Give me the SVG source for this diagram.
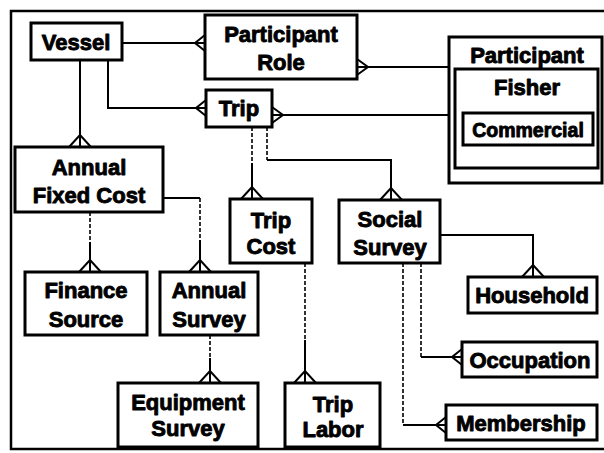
<svg xmlns="http://www.w3.org/2000/svg" width="604" height="453" viewBox="0 0 604 453">
<style>
.box{fill:#fff;stroke:#000;stroke-width:3}
.t{font-family:"Liberation Sans",Arial,sans-serif;font-weight:bold;font-size:22px;text-anchor:middle;fill:#000;stroke:#000;stroke-width:0.9;stroke-linejoin:round}
.ts{font-size:19.5px}
.c{fill:none;stroke:#000;stroke-width:2}
.d{fill:none;stroke:#000;stroke-width:1.6;stroke-dasharray:4 2}
.f{fill:none;stroke:#000;stroke-width:2}
</style>
<rect width="604" height="453" fill="#fff"/>
<path d="M610 11 H11 V449 H610" fill="none" stroke="#000" stroke-width="2.5"/>
<g id="connectors">
<path class="c" d="M122 43 H205"/>
<path class="f" d="M205 35 L195 43 L205 51"/>
<path class="c" d="M108 60 V108 H206"/>
<path class="f" d="M206 100 L196 108 L206 116"/>
<path class="c" d="M80 60 V147"/>
<path class="f" d="M69 147 L80 135 L91 147"/>
<path class="c" d="M357 67 H449"/>
<path class="f" d="M357 59 L368 67 L357 75"/>
<path class="c" d="M272 115 H463"/>
<path class="f" d="M272 107 L283 115 L272 123"/>
<path class="d" d="M252 127 V163"/>
<path class="c" d="M252 163 V199"/>
<path class="f" d="M241 199 L252 187 L263 199"/>
<path class="d" d="M267 127 V160"/>
<path class="c" d="M267 160 H391 V200"/>
<path class="f" d="M380 200 L391 188 L402 200"/>
<path class="d" d="M90 212 V242"/>
<path class="c" d="M90 242 V272"/>
<path class="f" d="M79 272 L90 260 L101 272"/>
<path class="c" d="M163 198 H200"/>
<path class="d" d="M200 198 V240"/>
<path class="c" d="M200 240 V272"/>
<path class="f" d="M189 272 L200 260 L211 272"/>
<path class="d" d="M210 335 V358"/>
<path class="c" d="M210 358 V383"/>
<path class="f" d="M199 383 L210 371 L221 383"/>
<path class="d" d="M305 263 V340"/>
<path class="c" d="M305 340 V383"/>
<path class="f" d="M294 383 L305 371 L316 383"/>
<path class="c" d="M440 235 H533 V277"/>
<path class="f" d="M522 277 L533 265 L544 277"/>
<path class="d" d="M421 263 V357"/>
<path class="c" d="M421 357 H462"/>
<path class="f" d="M462 349 L452 357 L462 365"/>
<path class="d" d="M403 263 V425"/>
<path class="c" d="M403 425 H446"/>
<path class="f" d="M446 417 L436 425 L446 433"/>
</g>
<g id="vessel"><rect class="box" x="31" y="23" width="91" height="37"/><text class="t" x="76" y="49.5">Vessel</text></g>
<g id="participant-role"><rect class="box" x="205" y="15" width="152" height="64"/><text class="t" x="281" y="42">Participant</text><text class="t" x="281" y="70">Role</text></g>
<g id="participant"><rect class="box" x="449" y="37" width="153" height="146" stroke-width="2.5"/><text class="t" x="527" y="63">Participant</text></g>
<g id="fisher"><rect class="box" x="455" y="69" width="143" height="99" stroke-width="2.5"/><text class="t" x="527" y="95">Fisher</text></g>
<g id="commercial"><rect class="box" x="463" y="113" width="130" height="32"/><text class="t ts" x="528" y="137">Commercial</text></g>
<g id="trip"><rect class="box" x="206" y="90" width="66" height="37"/><text class="t" x="239" y="116">Trip</text></g>
<g id="annual-fixed-cost"><rect class="box" x="15" y="147" width="148" height="65"/><text class="t" x="89" y="175">Annual</text><text class="t" x="89" y="203">Fixed Cost</text></g>
<g id="finance-source"><rect class="box" x="25" y="272" width="122" height="63"/><text class="t" x="86" y="298">Finance</text><text class="t" x="86" y="327">Source</text></g>
<g id="annual-survey"><rect class="box" x="160" y="272" width="98" height="63"/><text class="t" x="209" y="298">Annual</text><text class="t" x="209" y="327">Survey</text></g>
<g id="equipment-survey"><rect class="box" x="118" y="383" width="140" height="64"/><text class="t" x="188" y="410">Equipment</text><text class="t" x="188" y="436">Survey</text></g>
<g id="trip-cost"><rect class="box" x="230" y="199" width="82" height="64"/><text class="t" x="271" y="228">Trip</text><text class="t" x="271" y="254">Cost</text></g>
<g id="trip-labor"><rect class="box" x="285" y="383" width="95" height="64"/><text class="t" x="333" y="412">Trip</text><text class="t" x="333" y="437">Labor</text></g>
<g id="social-survey"><rect class="box" x="339" y="200" width="101" height="63"/><text class="t" x="390" y="227">Social</text><text class="t" x="390" y="255">Survey</text></g>
<g id="household"><rect class="box" x="468" y="277" width="129" height="36"/><text class="t" x="532" y="303">Household</text></g>
<g id="occupation"><rect class="box" x="462" y="342" width="135" height="35"/><text class="t" x="530" y="368">Occupation</text></g>
<g id="membership"><rect class="box" x="446" y="405" width="151" height="35"/><text class="t" x="521" y="431">Membership</text></g>
</svg>
